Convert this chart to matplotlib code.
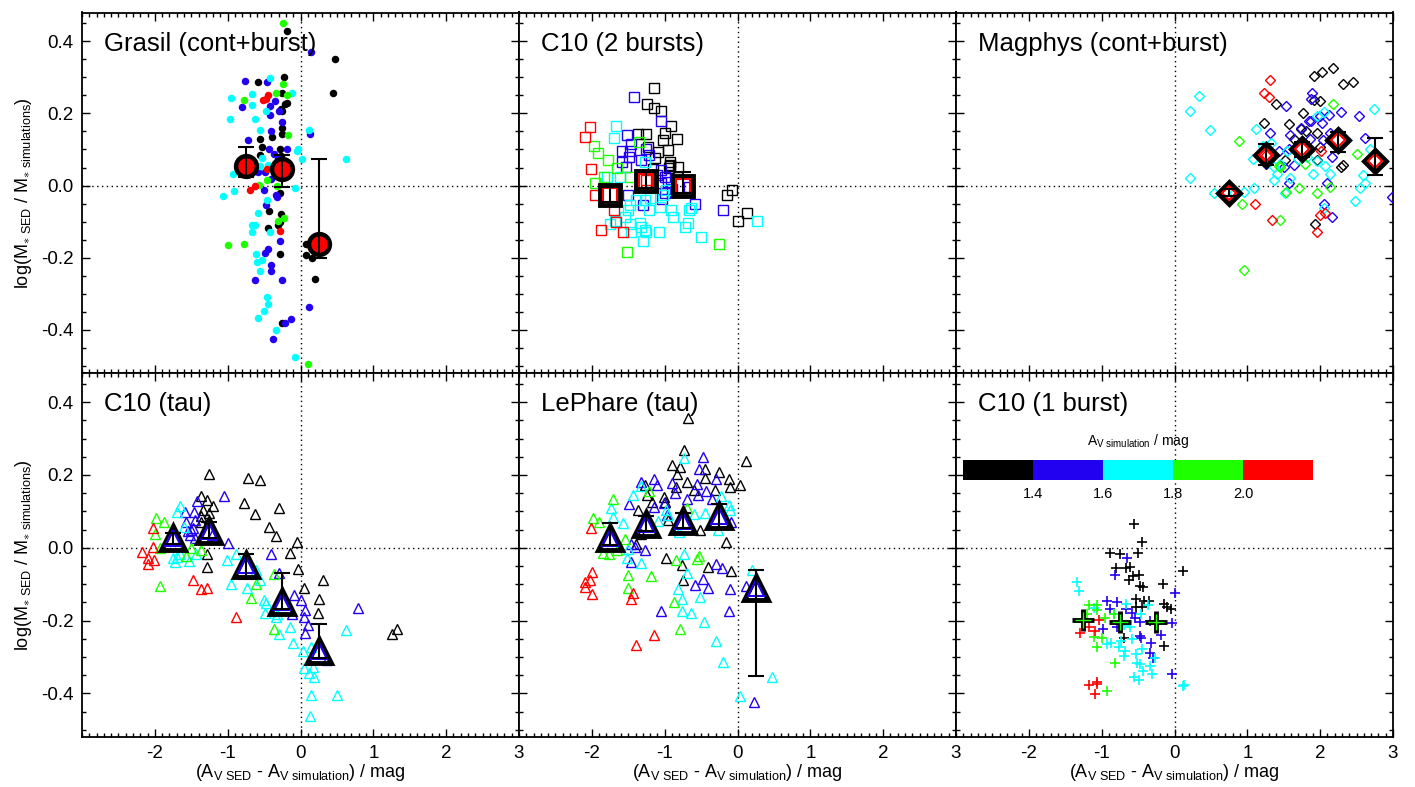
import matplotlib
matplotlib.use("Agg")
import matplotlib.pyplot as plt
from matplotlib.ticker import MultipleLocator, FixedLocator, NullLocator
from matplotlib.colors import ListedColormap, BoundaryNorm
from matplotlib.cm import ScalarMappable

plt.rcParams['font.family'] = ['Liberation Sans', 'DejaVu Sans']
plt.rcParams['mathtext.fontset'] = 'custom'
plt.rcParams['mathtext.rm'] = 'Liberation Sans'
plt.rcParams['mathtext.it'] = 'Liberation Sans'
plt.rcParams['axes.unicode_minus'] = False

# ---------------- data ----------------
colour_names = ['black', 'blue', 'cyan', 'green', 'red']
cbar_bounds = [1.2, 1.4, 1.6, 1.8, 2.0, 2.2]
cbar_ticks = [1.4, 1.6, 1.8, 2.0]
panel_titles = ['Grasil (cont+burst)', 'C10 (2 bursts)', 'Magphys (cont+burst)',
                'C10 (tau)', 'LePhare (tau)', 'C10 (1 burst)']
xtick_vals = [-2, -1, 0, 1, 2, 3]
ytick_vals = [-0.4, -0.2, 0.0, 0.2, 0.4]

# Panel 1: Grasil (cont+burst)
grasil_black = [(0.47,0.35),(0.45,0.256),(-0.23,0.30),(-0.59,0.288),(-0.26,0.258),(-0.18,0.23),(-0.21,0.226),
                (-0.27,0.212),(-0.25,0.208),(-0.26,0.16),(-0.26,0.143),(-0.56,0.13),(-0.39,0.134),(-0.53,0.108),
                (-0.28,0.10),(-0.55,0.084),(-0.27,0.083),(-0.28,-0.02),(-0.43,-0.07),(-0.27,-0.08),(-0.28,-0.10),
                (-0.31,-0.11),(-0.44,-0.117),(-0.28,-0.19),(0.08,-0.163),(0.07,-0.194),(0.16,-0.20),(0.20,-0.26),
                (-0.26,-0.38),(-0.18,0.43)]
grasil_blue = [(0.15,0.37),(-0.76,0.29),(-0.46,0.288),(-0.81,0.217),(-0.42,0.22),(-0.35,0.235),(-0.42,0.197),
               (-0.29,0.208),(-0.26,0.177),(-0.41,0.15),(0.13,0.143),(-0.72,0.127),(-0.43,0.10),(-0.18,0.10),
               (-0.37,0.088),(-0.31,0.074),(-0.58,0.038),(-0.49,0.038),(-0.41,0.017),(-0.50,-0.011),(-0.33,-0.025),
               (-0.32,-0.031),(-0.47,-0.055),(-0.28,-0.155),(-0.44,-0.176),(-0.49,-0.188),(-0.41,-0.22),
               (-0.40,-0.238),(-0.63,-0.261),(-0.25,-0.263),(0.11,-0.337),(-0.13,-0.37),(-0.21,-0.38),(-0.38,-0.425)]
grasil_cyan = [(-0.42,0.298),(-0.96,0.242),(-0.66,0.254),(-0.67,0.223),(-0.11,0.257),(-0.97,0.185),(-0.63,0.185),
               (-0.48,0.208),(-0.56,0.154),(0.12,0.154),(-0.04,0.102),(-0.05,0.097),(-0.53,0.077),(0.02,0.074),
               (0.62,0.074),(-0.55,0.053),(-0.44,0.056),(-0.93,0.033),(-0.91,-0.015),(-1.06,-0.029),(-0.08,-0.008),
               (-0.46,-0.04),(-0.58,-0.075),(-0.66,-0.109),(-0.63,-0.109),(-0.67,-0.13),(-0.42,-0.13),(-0.61,-0.19),
               (-0.60,-0.213),(-0.53,-0.206),(-0.55,-0.238),(-0.46,-0.31),(-0.45,-0.328),(-0.50,-0.349),
               (-0.58,-0.367),(-0.34,-0.40),(-0.08,-0.475)]
grasil_green = [(-0.24,0.283),(-0.33,0.256),(-0.18,0.25),(-0.78,0.237),(-0.17,0.139),(-0.57,0.002),(-0.46,0.015),
                (-0.32,0.0),(-0.31,-0.098),(-0.22,-0.089),(-1.00,-0.164),(-0.78,-0.161),(0.10,-0.494),(-0.24,0.45)]
grasil_red = [(-0.44,0.252),(-0.52,0.237),(-0.47,0.24),(-0.46,0.047),(-0.70,-0.013),(-0.63,-0.002),(-0.28,-0.126)]
grasil_mean_x = [-0.75, -0.25, 0.25]
grasil_mean_y = [0.055, 0.047, -0.163]
grasil_err_lo = [0.03, 0.05, 0.037]
grasil_err_hi = [0.053, 0.039, 0.237]

# Panel 2: C10 (2 bursts)
c2_black = [(-1.15,0.27),(-1.24,0.226),(-1.15,0.214),(-1.05,0.208),(-0.91,0.165),(-1.37,0.143),(-1.26,0.143),
            (-0.99,0.145),(-1.02,0.127),(-0.83,0.13),(-1.23,0.107),(-1.09,0.093),(-0.95,0.099),(-1.13,0.077),
            (-0.93,0.065),(-0.92,0.058),(-0.82,0.051),(-1.16,0.047),(-0.08,-0.011),(-0.15,-0.025),(0.13,-0.075),
            (0.01,-0.098),(-0.93,0.055),(-0.94,0.05)]
c2_blue = [(-1.42,0.245),(-1.05,0.178),(-1.52,0.141),(-1.46,0.114),(-1.58,0.097),(-1.48,0.097),(-1.49,0.079),
           (-1.25,0.10),(-1.22,0.084),(-1.33,0.072),(-1.58,0.065),(-1.53,0.051),(-1.05,0.042),(-1.00,0.024),
           (-1.05,0.006),(-1.00,-0.022),(-1.04,-0.036),(-1.51,-0.025),(-1.30,-0.054),(-0.59,-0.05),(-0.20,-0.068),
           (-0.66,-0.004),(-0.95,0.01),(-0.90,-0.01),(-1.10,0.03)]
c2_cyan = [(-1.67,0.165),(-1.69,0.131),(-1.61,0.024),(-1.79,0.024),(-1.27,0.065),(-1.48,-0.054),(-1.51,-0.068),
           (-1.55,-0.086),(-1.22,-0.068),(-1.27,-0.04),(-1.07,-0.059),(-0.91,-0.068),(-0.88,-0.086),(-0.66,-0.068),
           (-0.64,-0.061),(-1.48,-0.107),(-1.75,-0.107),(-1.68,-0.098),(-1.34,-0.103),(-1.32,-0.114),(-1.27,-0.123),
           (-1.25,-0.128),(-1.46,-0.13),(-1.30,-0.154),(-1.08,-0.13),(-0.72,-0.116),(-0.68,-0.103),(-0.50,-0.144),
           (0.27,-0.097),(-0.98,-0.013),(-1.02,-0.027),(-1.20,-0.035),(-1.40,-0.04)]
c2_green = [(-1.97,0.111),(-1.92,0.091),(-1.78,0.07),(-1.65,0.049),(-1.35,0.122),(-1.96,0.007),(-1.83,0.024),
            (-0.26,-0.163),(-1.52,-0.183),(-1.48,0.024)]
c2_red = [(-2.03,0.162),(-2.10,0.134),(-2.01,0.045),(-1.96,-0.027),(-1.69,-0.068),(-1.67,-0.102),(-1.88,-0.123),
          (-1.57,-0.13),(-1.25,0.015)]
c2_mean_x = [-1.75, -1.25, -0.75]
c2_mean_y = [-0.025, 0.012, 0.0]
c2_err_lo = [0.02, 0.02, 0.02]
c2_err_hi = [0.02, 0.025, 0.038]

# Panel 3: Magphys (cont+burst)
mag_black = [(2.18,0.327),(1.91,0.304),(2.02,0.316),(2.32,0.281),(2.45,0.288),(1.39,0.226),(1.91,0.238),(2.00,0.235),
             (1.76,0.20),(1.23,0.173),(1.57,0.171),(1.73,0.157),(1.81,0.15),(1.95,0.145),(1.64,0.13),(2.00,0.107),
             (1.52,0.07),(1.96,0.07),(2.29,0.051),(2.32,0.056),(1.93,-0.108)]
mag_blue = [(1.89,0.257),(1.53,0.222),(2.53,0.194),(1.87,0.18),(2.03,0.174),(2.00,0.194),(2.12,0.196),(2.29,0.205),
            (1.31,0.145),(1.59,0.139),(1.86,0.13),(2.04,0.125),(2.14,0.145),(2.62,0.131),(1.43,0.097),(1.57,0.102),
            (2.16,0.079),(1.26,0.059),(1.64,0.056),(1.50,0.051),(1.57,0.007),(2.10,0.006),(2.99,-0.031),(2.05,-0.05),
            (2.16,-0.086),(1.73,0.16),(1.88,0.24),(1.85,0.18)]
mag_cyan = [(0.33,0.249),(0.21,0.206),(0.49,0.155),(0.21,0.022),(0.54,-0.022),(0.82,-0.02),(0.95,-0.017),(1.09,-0.008),
            (1.12,0.157),(1.08,0.073),(1.21,0.111),(1.32,0.118),(1.37,0.051),(1.41,0.033),(1.36,0.015),(1.58,0.022),
            (1.52,-0.02),(1.55,0.097),(1.69,0.074),(1.82,0.079),(1.90,0.033),(1.96,0.067),(2.06,0.053),(2.13,0.033),
            (1.96,0.194),(2.05,0.203),(2.69,0.102),(2.74,0.212),(2.59,0.029),(2.55,-0.008),(2.48,-0.043),(2.62,0.006),
            (2.05,-0.063),(1.25,0.11),(1.45,0.06)]
mag_green = [(0.89,0.123),(0.92,-0.05),(0.95,-0.235),(1.45,-0.096),(1.43,0.053),(1.45,0.051),(1.71,-0.006),
             (1.96,-0.02),(2.14,-0.004),(1.53,-0.019),(2.18,0.226),(2.50,0.088),(1.79,0.061)]
mag_red = [(1.31,0.292),(1.23,0.257),(1.30,0.246),(1.10,-0.051),(1.34,-0.096),(1.95,-0.128),(2.00,-0.082),
           (2.06,-0.075),(2.01,0.097),(1.25,0.086)]
mag_mean_x = [0.75, 1.25, 1.75, 2.25, 2.75]
mag_mean_y = [-0.02, 0.086, 0.10, 0.125, 0.068]
mag_err_lo = [0.01, 0.03, 0.02, 0.032, 0.04]
mag_err_hi = [0.01, 0.03, 0.02, 0.023, 0.065]

# Panel 4: C10 (tau)
tau_black = [(-1.25,0.203),(-0.72,0.192),(-0.55,0.187),(-1.36,0.143),(-1.28,0.132),(-1.20,0.115),(-1.34,0.104),
             (-1.25,0.095),(-1.36,0.086),(-1.37,0.072),(-0.78,0.124),(-0.63,0.093),(-0.30,0.11),(-0.43,0.058),
             (-0.34,0.032),(-0.05,0.017),(-0.14,-0.014),(-1.29,-0.017),(-1.29,-0.052),(-0.04,-0.059),(0.05,-0.11),
             (0.31,-0.089),(0.25,-0.142),(0.24,-0.179),(1.32,-0.223),(1.25,-0.238)]
tau_blue = [(-1.05,0.141),(-1.42,0.127),(-1.59,0.099),(-1.46,0.097),(-1.57,0.072),(-1.45,0.076),(-1.50,0.049),
            (-1.52,0.035),(-1.45,0.026),(-1.22,0.035),(-1.00,0.012),(-0.40,-0.016),(-0.29,-0.069),(-0.09,-0.131),
            (0.00,-0.143),(0.06,-0.17),(0.05,-0.19),(0.10,-0.211),(0.06,-0.234),(-0.11,-0.183),(0.79,-0.165),
            (0.37,-0.308),(-1.55,0.045),(-1.48,0.055)]
tau_cyan = [(-1.65,0.115),(-1.69,0.098),(-1.60,0.056),(-1.69,-0.025),(-1.72,-0.039),(-1.75,-0.029),(-1.66,-0.017),
            (-1.53,-0.037),(-1.43,-0.016),(-1.01,-0.034),(-0.88,-0.016),(-0.95,-0.101),(-0.74,-0.11),(-0.55,-0.089),
            (-0.61,-0.062),(-0.50,-0.143),(-0.47,-0.152),(-0.49,-0.179),(-0.32,-0.181),(-0.33,-0.191),(-0.15,-0.218),
            (-0.30,-0.237),(-0.10,-0.262),(0.04,-0.283),(0.15,-0.273),(0.05,-0.331),(0.11,-0.345),(0.19,-0.356),
            (0.17,-0.327),(0.14,-0.405),(0.50,-0.405),(0.13,-0.462),(0.62,-0.226)]
tau_green = [(-1.99,0.081),(-1.87,0.072),(-2.00,0.037),(-1.93,-0.002),(-1.50,-0.002),(-1.37,-0.006),(-1.93,-0.106),
             (-1.57,-0.023),(-0.61,-0.101),(-0.68,-0.138),(-0.37,-0.073),(-0.36,-0.223)]
tau_red = [(-2.02,0.055),(-2.03,0.001),(-2.17,-0.011),(-2.10,-0.029),(-2.01,-0.034),(-2.10,-0.046),(-1.47,-0.089),
           (-1.37,-0.114),(-1.28,-0.11),(-0.89,-0.189)]
tau_mean_x = [-1.75, -1.25, -0.75, -0.25, 0.25]
tau_mean_y = [0.026, 0.047, -0.048, -0.149, -0.283]
tau_err_lo = [0.015, 0.02, 0.039, 0.02, 0.02]
tau_err_hi = [0.015, 0.023, 0.032, 0.08, 0.074]

# Panel 5: LePhare (tau)
lp_black = [(-0.68,0.356),(-0.74,0.269),(-0.90,0.227),(-0.79,0.223),(-0.83,0.203),(-0.44,0.216),(-0.25,0.207),
            (0.11,0.239),(0.04,0.172),(-0.69,0.181),(-0.45,0.191),(-0.12,0.189),(-0.10,0.166),(-0.31,0.158),
            (-0.60,0.158),(-0.84,0.166),(-1.27,0.172),(-1.24,0.145),(-1.17,0.126),(-1.01,0.138),(-1.00,0.126),
            (-0.95,0.076),(-1.36,0.103),(-1.33,0.039),(-1.39,0.011),(-0.52,0.048),(-0.16,0.016),(-0.98,-0.029),
            (-0.76,-0.047),(-0.41,-0.053),(-0.09,-0.064),(-0.75,-0.088)]
lp_blue = [(-0.47,0.25),(-0.53,0.215),(-0.29,0.188),(-1.15,0.189),(-1.11,0.172),(-1.33,0.181),(-0.90,0.179),
           (-0.86,0.149),(-0.55,0.175),(-0.43,0.157),(-0.35,0.135),(-0.54,0.145),(-0.69,0.133),(-1.01,0.124),
           (-1.14,0.112),(-0.97,0.089),(-1.49,0.12),(-0.09,0.071),(-1.46,0.011),(-1.41,0.002),(-1.27,-0.005),
           (-1.46,-0.038),(-0.30,-0.046),(-0.21,-0.055),(-0.47,-0.086),(-0.41,-0.11),(-0.58,-0.102),(-0.10,-0.113),
           (0.12,-0.104),(-1.05,-0.173),(-0.11,-0.173),(0.22,-0.424)]
lp_cyan = [(-0.74,0.246),(-1.32,0.169),(-1.43,0.146),(-1.73,0.11),(-1.71,0.085),(-1.57,0.068),(-1.09,0.074),
           (-0.98,0.103),(-0.95,0.089),(-0.60,0.094),(-0.44,0.096),(-0.23,0.143),(-0.12,0.117),(-0.10,0.105),
           (-0.81,0.043),(-0.27,0.05),(-1.50,-0.003),(-1.52,-0.029),(-1.33,-0.042),(-0.73,-0.018),(-0.70,-0.07),
           (-0.82,-0.113),(-0.76,-0.141),(-0.64,-0.18),(-0.76,-0.173),(-0.51,-0.136),(-0.46,-0.203),(-0.30,-0.256),
           (-0.20,-0.313),(0.20,-0.061),(0.47,-0.355),(0.04,-0.408),(-1.77,0.052)]
lp_green = [(-1.71,0.133),(-1.21,0.157),(-1.98,0.082),(-1.90,0.071),(-1.55,0.025),(-1.84,-0.014),(-1.77,-0.018),
            (-1.65,-0.007),(-1.50,-0.074),(-1.19,-0.078),(-1.50,-0.11),(-0.84,-0.035),(-0.55,-0.03),(-0.53,-0.024),
            (-0.87,-0.15),(-0.79,-0.222),(-0.70,0.108)]
lp_red = [(-2.01,0.055),(-2.00,-0.067),(-2.03,-0.09),(-2.10,-0.093),(-2.09,-0.109),(-2.00,-0.127),(-1.44,-0.125),
          (-1.46,-0.141),(-1.15,-0.24),(-1.39,-0.268)]
lp_mean_x = [-1.75, -1.25, -0.75, -0.25, 0.25]
lp_mean_y = [0.027, 0.066, 0.074, 0.087, -0.11]
lp_err_lo = [0.02, 0.02, 0.02, 0.035, 0.243]
lp_err_hi = [0.041, 0.02, 0.022, 0.033, 0.049]

# Panel 6: C10 (1 burst)
b1_black = [(-0.56,0.064),(-0.44,0.017),(-0.88,-0.014),(-0.75,-0.018),(-0.50,-0.014),(-0.80,-0.056),(-0.66,-0.056),
            (-0.61,-0.052),(-0.57,-0.078),(-0.49,-0.076),(-0.63,-0.09),(-0.47,-0.104),(-0.43,-0.109),(-0.16,-0.101),
            (0.12,-0.063),(-0.53,-0.141),(-0.42,-0.147),(-0.35,-0.145),(-0.53,-0.164),(-0.44,-0.162),(-0.15,-0.155),
            (-0.10,-0.162),(-0.05,-0.169),(-0.15,-0.27),(-0.69,-0.249)]
b1_blue = [(-0.65,-0.028),(-0.82,-0.074),(0.00,-0.124),(-0.92,-0.145),(-0.79,-0.15),(-0.89,-0.169),(-0.66,-0.169),
           (-0.58,-0.178),(-0.54,-0.193),(-0.47,-0.205),(-0.98,-0.224),(-0.79,-0.219),(-0.33,-0.201),(-0.03,-0.208),
           (-0.47,-0.242),(-0.46,-0.247),(-0.32,-0.261),(-0.33,-0.288),(-0.18,-0.239),(-0.29,-0.302),(-0.03,-0.348)]
b1_cyan = [(-1.34,-0.093),(-1.31,-0.118),(-1.10,-0.166),(-0.83,-0.182),(-0.66,-0.155),(-0.69,-0.212),(-0.61,-0.219),
           (-0.46,-0.182),(-0.93,-0.265),(-0.87,-0.261),(-0.74,-0.256),(-0.76,-0.274),(-0.69,-0.297),(-0.68,-0.284),
           (-0.59,-0.251),(-0.51,-0.316),(-0.47,-0.32),(-0.53,-0.293),(-0.43,-0.339),(-0.33,-0.325),(-0.31,-0.348),
           (-0.27,-0.302),(-0.56,-0.355),(-0.49,-0.364),(0.11,-0.38),(0.13,-0.378),(-0.45,-0.279),(-0.37,-0.157)]
b1_green = [(-1.18,-0.157),(-1.06,-0.157),(-1.07,-0.171),(-0.95,-0.192),(-0.83,-0.182),(-1.10,-0.245),(-0.99,-0.247),
            (-1.06,-0.272),(-0.82,-0.316),(-0.93,-0.394),(-1.20,-0.182)]
b1_red = [(-1.30,-0.233),(-1.18,-0.217),(-1.09,-0.228),(-1.04,-0.199),(-1.17,-0.378),(-1.07,-0.369),(-1.06,-0.374),
          (-1.09,-0.403)]
b1_mean_x = [-1.25, -0.75, -0.25]
b1_mean_y = [-0.199, -0.203, -0.205]

# ---------------- style ----------------
COLS = {'black': '#000000', 'blue': '#2200F0', 'cyan': '#00FFFF', 'green': '#1EFF00', 'red': '#FF0000'}

W, H = 1415, 787
fig = plt.figure(figsize=(W / 100, H / 100), dpi=100)

col_left = [82, 519, 956]
col_w = 437
row_top = [12.5, 373]
row_h = [360.5, 364]


def make_ax(r, c):
    return fig.add_axes([col_left[c] / W, 1 - (row_top[r] + row_h[r]) / H, col_w / W, row_h[r] / H])


def style_ax(ax, r, c, title):
    ax.set_xlim(-3, 3)
    ax.set_ylim(-0.52, 0.48)
    ax.xaxis.set_major_locator(FixedLocator(xtick_vals))
    ax.xaxis.set_minor_locator(MultipleLocator(0.1))
    ax.yaxis.set_major_locator(FixedLocator(ytick_vals))
    ax.yaxis.set_minor_locator(MultipleLocator(0.05))
    ax.tick_params(which='both', direction='in', top=True, right=True, width=1.0)
    ax.tick_params(which='major', length=6)
    ax.tick_params(which='minor', length=3)
    ax.tick_params(axis='both', labelsize=13.5, pad=6)
    for s in ax.spines.values():
        s.set_linewidth(1.3)
    ax.axhline(0, color='k', lw=1.0, ls=(0, (1, 2.5)), zorder=1)
    ax.axvline(0, color='k', lw=1.0, ls=(0, (1, 2.5)), zorder=1)
    if c == 0:
        ax.set_yticklabels(['%.1f' % v for v in ytick_vals])
        ax.set_ylabel(r'log(M$_{\ast\ \rm SED}$ / M$_{\ast\ \rm simulations}$)', fontsize=13, labelpad=5)
    else:
        ax.set_yticklabels([])
    if r == 1:
        ax.set_xticklabels(['%d' % v for v in xtick_vals])
        ax.set_xlabel(r'(A$_{\rm V\ SED}$ - A$_{\rm V\ simulation}$) / mag', fontsize=13, labelpad=0)
    else:
        ax.set_xticklabels([])
    ax.text(22 / col_w, 1 - 38 / row_h[r], title, transform=ax.transAxes, fontsize=18.5,
            ha='left', va='baseline', zorder=10)


def scatter_groups(ax, groups, marker, ms, filled, mew=1.0):
    for name, pts in zip(colour_names, groups):
        xs = [p[0] for p in pts]
        ys = [p[1] for p in pts]
        col = COLS[name]
        if filled:
            ax.plot(xs, ys, ls='none', marker=marker, ms=ms, mfc=col, mec=col, mew=0, zorder=3)
        else:
            ax.plot(xs, ys, ls='none', marker=marker, ms=ms, mfc='none', mec=col, mew=mew, zorder=3)


def errbars(ax, x, y, lo, hi):
    ax.errorbar(x, y, yerr=[lo, hi], fmt='none', ecolor='k', elinewidth=1.5, capsize=5.5,
                capthick=1.5, zorder=7)


# Panel 1
ax = make_ax(0, 0)
style_ax(ax, 0, 0, panel_titles[0])
scatter_groups(ax, [grasil_black, grasil_blue, grasil_cyan, grasil_green, grasil_red], 'o', 5.4, True)
ax.plot(grasil_mean_x, grasil_mean_y, ls='none', marker='o', ms=15, mfc='#FF0000', mec='k', mew=3.2, zorder=5)
errbars(ax, grasil_mean_x, grasil_mean_y, grasil_err_lo, grasil_err_hi)

# Panel 2
ax = make_ax(0, 1)
style_ax(ax, 0, 1, panel_titles[1])
scatter_groups(ax, [c2_black, c2_blue, c2_cyan, c2_green, c2_red], 's', 6.5, False)
ax.plot(c2_mean_x, c2_mean_y, ls='none', marker='s', ms=15, mfc='none', mec='k', mew=3.5, zorder=5)
ax.plot(c2_mean_x, c2_mean_y, ls='none', marker='s', ms=10, mfc='none', mec='#FF0000', mew=1.5, zorder=6)
errbars(ax, c2_mean_x, c2_mean_y, c2_err_lo, c2_err_hi)

# Panel 3
ax = make_ax(0, 2)
style_ax(ax, 0, 2, panel_titles[2])
scatter_groups(ax, [mag_black, mag_blue, mag_cyan, mag_green, mag_red], 'D', 4.6, False)
ax.plot(mag_mean_x, mag_mean_y, ls='none', marker='D', ms=11, mfc='none', mec='k', mew=3.5, zorder=5)
ax.plot(mag_mean_x, mag_mean_y, ls='none', marker='D', ms=7, mfc='none', mec='#FF0000', mew=1.5, zorder=6)
errbars(ax, mag_mean_x, mag_mean_y, mag_err_lo, mag_err_hi)

# Panel 4
ax = make_ax(1, 0)
style_ax(ax, 1, 0, panel_titles[3])
scatter_groups(ax, [tau_black, tau_blue, tau_cyan, tau_green, tau_red], '^', 6.5, False)
ax.plot(tau_mean_x, tau_mean_y, ls='none', marker='^', ms=17, mfc='none', mec='k', mew=3.5, zorder=5)
ax.plot(tau_mean_x, tau_mean_y, ls='none', marker='^', ms=11, mfc='none', mec=COLS['blue'], mew=1.5, zorder=6)
errbars(ax, tau_mean_x, tau_mean_y, tau_err_lo, tau_err_hi)

# Panel 5
ax = make_ax(1, 1)
style_ax(ax, 1, 1, panel_titles[4])
scatter_groups(ax, [lp_black, lp_blue, lp_cyan, lp_green, lp_red], '^', 6.5, False)
ax.plot(lp_mean_x, lp_mean_y, ls='none', marker='^', ms=17, mfc='none', mec='k', mew=3.5, zorder=5)
ax.plot(lp_mean_x, lp_mean_y, ls='none', marker='^', ms=11, mfc='none', mec=COLS['blue'], mew=1.5, zorder=6)
errbars(ax, lp_mean_x, lp_mean_y, lp_err_lo, lp_err_hi)

# Panel 6
ax = make_ax(1, 2)
style_ax(ax, 1, 2, panel_titles[5])
scatter_groups(ax, [b1_black, b1_blue, b1_cyan, b1_green, b1_red], '+', 7, False, mew=1.2)
ax.plot(b1_mean_x, b1_mean_y, ls='none', marker='+', ms=16, mec='k', mew=3.5, zorder=5)
ax.plot(b1_mean_x, b1_mean_y, ls='none', marker='+', ms=12, mec=COLS['green'], mew=1.0, zorder=6)

# Colour bar
cax = fig.add_axes([963 / W, 1 - 480 / H, 350 / W, 20 / H])
cmap = ListedColormap([COLS[n] for n in colour_names])
norm = BoundaryNorm(cbar_bounds, cmap.N)
cb = fig.colorbar(ScalarMappable(norm=norm, cmap=cmap), cax=cax, orientation='horizontal', ticks=cbar_ticks)
cb.outline.set_visible(False)
cax.xaxis.set_minor_locator(NullLocator())
cax.tick_params(which='both', length=0, labelsize=10.5, pad=5)
cax.set_xticklabels(['%.1f' % v for v in cbar_ticks])
cax.set_title(r'A$_{\rm V\ simulation}$ / mag', fontsize=10, pad=11)

fig.savefig('out.png', dpi=100)
